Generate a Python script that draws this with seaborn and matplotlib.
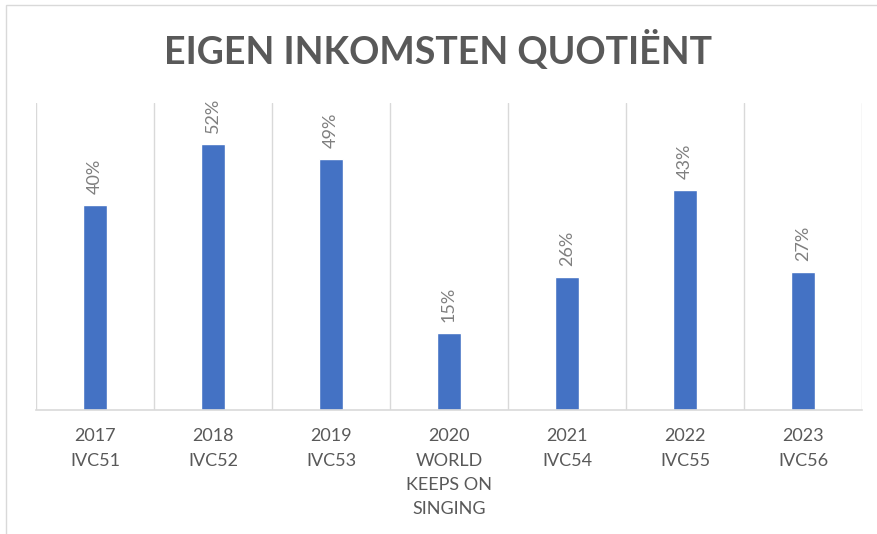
import matplotlib
matplotlib.use("Agg")
import matplotlib.pyplot as plt
import matplotlib.patches as mpatches
import seaborn as sns
import pandas as pd

# data
categories = ["2017\nIVC51", "2018\nIVC52", "2019\nIVC53", "2020\nWORLD\nKEEPS ON\nSINGING",
              "2021\nIVC54", "2022\nIVC55", "2023\nIVC56"]
values = [40, 52, 49, 15, 26, 43, 27]
labels = ["40%", "52%", "49%", "15%", "26%", "43%", "27%"]

sns.set_style("white")
plt.rcParams['font.family'] = ['Lato', 'DejaVu Sans']

df = pd.DataFrame({"cat": categories, "val": values})

fig = plt.figure(figsize=(8.77, 5.34), dpi=100)
ax = fig.add_axes([36/877, 124/534, 826/877, 307/534])

sns.barplot(data=df, x="cat", y="val", color="#4472C4", width=0.2, saturation=1, ax=ax)

ax.set_ylim(0, 60)
ax.set_xlim(-0.5, len(categories) - 0.5)
ax.set_xlabel("")
ax.set_ylabel("")
ax.set_yticks([])

# vertical separators between categories
ax.set_xticks([i - 0.5 for i in range(len(categories) + 1)], minor=True)
ax.grid(True, which="minor", axis="x", color="#d9d9d9", linewidth=1)
ax.tick_params(axis="x", which="both", length=0, pad=13, labelsize=13, colors="#595959")
for t in ax.get_xticklabels():
    t.set_linespacing(1.65)
    t.set_verticalalignment("top")

for s in ["top", "left", "right"]:
    ax.spines[s].set_visible(False)
ax.spines["bottom"].set_color("#d9d9d9")
ax.spines["bottom"].set_linewidth(1.2)

for i, (v, lab) in enumerate(zip(values, labels)):
    ax.annotate(lab, (i, v), xytext=(0, 8), textcoords="offset points",
                rotation=90, ha="center", va="bottom", fontsize=13, color="#7f7f7f")

fig.text(0.5, 1 - 50/534, "EIGEN INKOMSTEN QUOTIËNT", ha="center", va="center",
         fontsize=27, fontweight="bold", color="#595959")

# chart frame
fig.patches.append(mpatches.Rectangle((6/877, -0.01), 1.0, 1 - 5/534 + 0.01, transform=fig.transFigure,
                                      fill=False, edgecolor="#d9d9d9", linewidth=1))

fig.savefig("out.png", dpi=100)
